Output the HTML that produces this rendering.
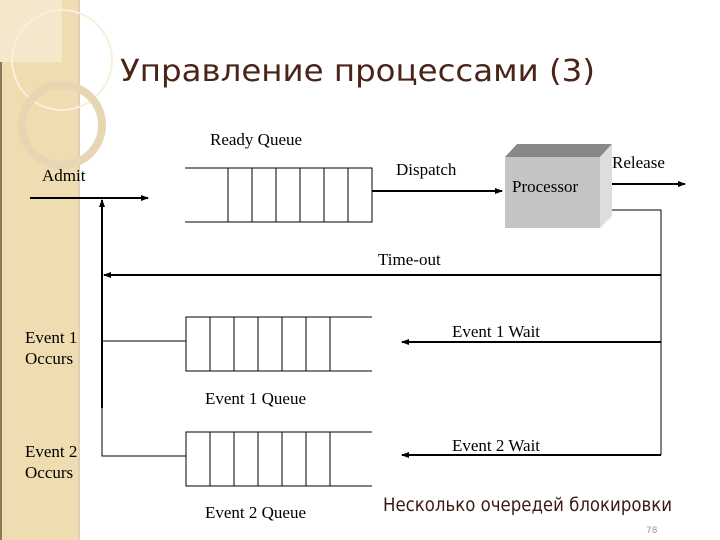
<!DOCTYPE html>
<html><head><meta charset="utf-8"><style>
body{margin:0;width:720px;height:540px;background:#fff;overflow:hidden;position:relative}
</style></head><body>
<svg width="720" height="540" viewBox="0 0 720 540" xmlns="http://www.w3.org/2000/svg" style="position:absolute;left:0;top:0">
<defs>
<marker id="a" markerWidth="8" markerHeight="6" refX="7" refY="3" orient="auto" markerUnits="userSpaceOnUse"><path d="M0,0 L8,3 L0,6 z" fill="#000"/></marker>
</defs>
<rect x="0" y="0" width="78" height="540" fill="#efdcb0"/>
<rect x="78" y="0" width="2" height="540" fill="#ddd0b4"/>
<rect x="0" y="0" width="62" height="62" fill="#f3e7cc"/>
<circle cx="62" cy="60" r="50" fill="none" stroke="#f8efdc" stroke-width="2"/>
<circle cx="62" cy="125" r="40" fill="none" stroke="#e6d6b4" stroke-width="8"/>
<rect x="0" y="62" width="2" height="478" fill="#8a7a5a"/>
<text x="120" y="81" font-family="DejaVu Sans, sans-serif" font-size="30" fill="#4a2418" textLength="475" lengthAdjust="spacingAndGlyphs">Управление процессами (3)</text>
<g font-family="Liberation Serif, serif" font-size="17" fill="#000">
<text x="210" y="145">Ready Queue</text>
<text x="42" y="181">Admit</text>
<text x="396" y="175">Dispatch</text>
<text x="612" y="168">Release</text>
<text x="378" y="265">Time-out</text>
<text x="452" y="337">Event  1 Wait</text>
<text x="452" y="451">Event  2 Wait</text>
<text x="25" y="343">Event 1</text>
<text x="25" y="364">Occurs</text>
<text x="25" y="457">Event 2</text>
<text x="25" y="478">Occurs</text>
<text x="205" y="404">Event 1 Queue</text>
<text x="205" y="518">Event 2 Queue</text>
</g>
<g stroke="#000" fill="none" stroke-width="1">
<path d="M185,168 H372 V222 H185"/>
<path d="M228,168V222M252,168V222M276,168V222M300,168V222M324,168V222M348,168V222"/>
<path d="M372,317 H186 V371 H372"/>
<path d="M210,317V371M234,317V371M258,317V371M282,317V371M306,317V371M330,317V371"/>
<path d="M372,432 H186 V486 H372"/>
<path d="M210,432V486M234,432V486M258,432V486M282,432V486M306,432V486M330,432V486"/>
<path d="M102,341H186M102,408V456H186M600,210H661V455"/>
</g>
<g stroke="#000" stroke-width="2" fill="none">
<line x1="30" y1="198" x2="148" y2="198" marker-end="url(#a)"/>
<line x1="102" y1="408" x2="102" y2="200" marker-end="url(#a)"/>
<line x1="372" y1="191" x2="502" y2="191" marker-end="url(#a)"/>
<line x1="606" y1="184" x2="685" y2="184" marker-end="url(#a)"/>
<line x1="661" y1="275" x2="104" y2="275" marker-end="url(#a)"/>
<line x1="661" y1="342" x2="402" y2="342" marker-end="url(#a)"/>
<line x1="661" y1="455" x2="402" y2="455" marker-end="url(#a)"/>
</g>
<polygon points="505,157 517,144 612,144 600,157" fill="#888"/>
<polygon points="600,157 612,144 612,216 600,228" fill="#ddd"/>
<rect x="505" y="157" width="95" height="71" fill="#c4c4c4"/>
<text x="512" y="192" font-family="Liberation Serif, serif" font-size="17">Processor</text>
<text x="383" y="511" font-family="DejaVu Sans, sans-serif" font-size="19" fill="#3a1a12" textLength="289" lengthAdjust="spacingAndGlyphs">Несколько очередей блокировки</text>
<text x="646" y="533" font-family="DejaVu Sans, sans-serif" font-size="9" fill="#999">78</text>
</svg>
</body></html>
